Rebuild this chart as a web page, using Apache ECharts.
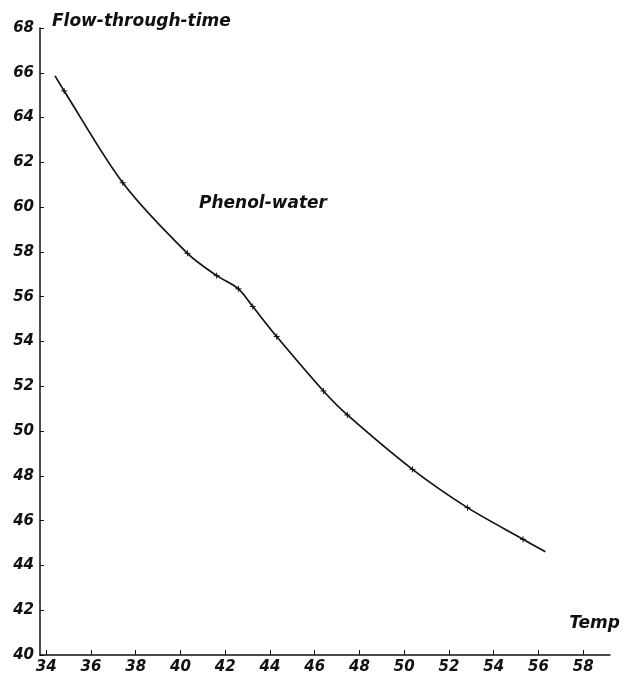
<!DOCTYPE html>
<html>
<head>
<meta charset="utf-8">
<script src="https://cdn.jsdelivr.net/npm/echarts@6/dist/echarts.min.js"></script>
<style>html,body{margin:0;padding:0;background:#fff}#c{width:623px;height:679px}</style>
</head>
<body>
<div id="c"></div>
<script>
// Temperature and flow-through-time
const temps = [34.39, 34.8, 37.42, 40.31, 41.62, 42.59, 43.23, 44.3, 46.39, 47.46, 50.37, 52.83, 55.31, 56.31];
const flowTimes = [65.86, 65.19, 61.09, 57.94, 56.94, 56.35, 55.56, 54.22, 51.79, 50.72, 48.29, 46.58, 45.17, 44.61];
const marked = [false, true, true, true, true, true, true, true, true, true, true, true, true, false];
const xTicks = [34, 36, 38, 40, 42, 44, 46, 48, 50, 52, 54, 56, 58];

const font = {fontFamily: 'DejaVu Sans', fontWeight: 'bold', fontStyle: 'italic', color: '#111'};
const chart = echarts.init(document.getElementById('c'));
const data = temps.map((t, i) => ({
  value: [t, flowTimes[i]],
  symbol: marked[i] ? 'path://M0,0L10,0M5,-5L5,5' : 'none'
}));
chart.setOption({
  animation: false,
  grid: {left: 40, right: 13, top: 28, bottom: 24},
  xAxis: {
    type: 'value', min: 33.72, max: 59.2,
    name: 'Temp', nameLocation: 'end', nameGap: 10,
    nameTextStyle: Object.assign({fontSize: 17, align: 'right', verticalAlign: 'bottom', padding: [0, 0, 23, 0]}, font),
    axisLine: {show: true, lineStyle: {color: '#111', width: 1.5}},
    axisTick: {show: true, inside: true, length: 5, customValues: xTicks, lineStyle: {color: '#111'}},
    axisLabel: Object.assign({fontSize: 15, margin: 5, customValues: xTicks}, font),
    splitLine: {show: false}
  },
  yAxis: {
    type: 'value', min: 40, max: 68, interval: 2,
    name: 'Flow-through-time', nameLocation: 'end', nameGap: -2,
    nameTextStyle: Object.assign({fontSize: 17, align: 'left', padding: [0, 0, 0, 12]}, font),
    axisLine: {show: true, lineStyle: {color: '#111', width: 1.5}},
    axisTick: {show: true, inside: true, length: 4, lineStyle: {color: '#111'}},
    axisLabel: Object.assign({fontSize: 15, margin: 6}, font),
    splitLine: {show: false}
  },
  series: [{
    type: 'line', name: 'Phenol-water',
    data: data, smooth: 0.3,
    symbolSize: 6, symbolKeepAspect: true,
    lineStyle: {color: '#111', width: 1.7},
    itemStyle: {color: '#111', borderColor: '#111', borderWidth: 1},
    label: {show: false}
  }],
  graphic: [{
    type: 'text', left: 199, top: 195,
    style: Object.assign({text: 'Phenol-water', fontSize: 17, fill: '#111'}, font)
  }]
});
</script>
</body>
</html>
